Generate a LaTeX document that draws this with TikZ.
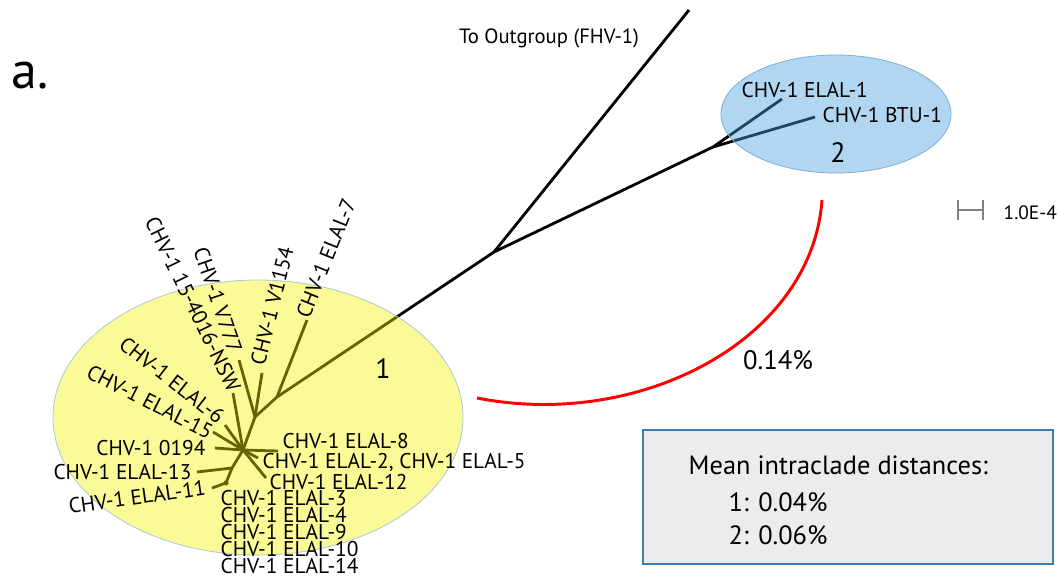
\documentclass[tikz,border=0pt]{standalone}
\usepackage{fontspec}
\setmainfont{PT Sans}
\definecolor{cladeyellow}{RGB}{244,244,0}
\definecolor{cladeblue}{RGB}{75,160,225}
\definecolor{yellowedge}{RGB}{170,200,215}
\definecolor{blueedge}{RGB}{125,175,212}
\definecolor{boxedge}{RGB}{60,125,175}
\definecolor{boxfill}{RGB}{236,236,236}
\definecolor{bargray}{RGB}{130,130,130}
\begin{document}
\begin{tikzpicture}[x=0.75pt, y=-0.75pt,
        branch/.style={line width=2.1pt},
        tip/.style={font=\fontsize{16}{18}\selectfont, inner sep=1pt},
        cladenum/.style={font=\fontsize{21}{24}\selectfont, inner sep=0pt}]
        \useasboundingbox (0,0) rectangle (1060,578);

        \coordinate (root) at (494,252);
        \coordinate (out) at (689,10);
        \coordinate (J) at (713,147);
        \coordinate (telal1) at (782,99);
        \coordinate (tbtu1) at (815,117);
        \coordinate (A) at (277,397);
        \coordinate (B) at (255,417);
        \coordinate (C) at (243,450);
        \coordinate (D) at (232,468);
        \coordinate (E) at (226,483);
        \coordinate (t7) at (307,320);
        \coordinate (t1154) at (262,373);
        \coordinate (t777) at (239,360);
        \coordinate (t4016) at (233,393);
        \coordinate (t6) at (225,425);
        \coordinate (t15) at (213,432);
        \coordinate (t0194) at (215,448);
        \coordinate (t8) at (278,451);
        \coordinate (t25) at (258,458);
        \coordinate (t12) at (266,478);
        \coordinate (t13) at (197,472);
        \coordinate (t11) at (212,488);

        \draw[branch] (root) -- (out);
        \draw[branch] (root) -- (J) -- (telal1);
        \draw[branch] (J) -- (tbtu1);
        \draw[branch] (root) -- (A) -- (B) -- (C) -- (D) -- (E);
        \foreach \a/\b in {A/t7, B/t1154, B/t777, C/t4016, C/t6, C/t15, C/t0194, C/t8, C/t25, C/t12, D/t13, E/t11}
            \draw[branch] (\a) -- (\b);
        \fill (E) circle [radius=1.9pt];

        \path[fill=cladeyellow, fill opacity=0.41, draw=yellowedge, line width=0.6pt] (258,417.5) ellipse [x radius=205, y radius=137.5];
        \path[fill=cladeblue, fill opacity=0.43, draw=blueedge, line width=0.6pt] (836,114) ellipse [x radius=115, y radius=59];

        \node[tip, rotate=68] (l7) at (326,258) {CHV-1 ELAL-7};
        \node[tip, rotate=76] (l1154) at (272,306) {CHV-1 V1154};
        \node[tip, rotate=-71] (l777) at (218,300) {CHV-1 V777};
        \node[tip, rotate=-64] (l4016) at (193,304) {CHV-1 15-4016-NSW};
        \node[tip, rotate=-38] (l6) at (172,380) {CHV-1 ELAL-6};
        \node[tip, rotate=-27] (l15) at (150,402) {CHV-1 ELAL-15};
        \node[tip, anchor=east] (l0194) at (207,448) {CHV-1 0194};
        \node[tip, anchor=east] (l13) at (193,472) {CHV-1 ELAL-13};
        \node[tip, rotate=8] (l11) at (137,497) {CHV-1 ELAL-11};
        \node[tip, anchor=west] (l8) at (281,441) {CHV-1 ELAL-8};
        \node[tip, anchor=west] (l25) at (261,462) {CHV-1 ELAL-2, CHV-1 ELAL-5};
        \node[tip, anchor=west] (l12) at (268,482) {CHV-1 ELAL-12};
        \foreach \n [count=\i] in {3,4,9,10,14}
            \node[tip, anchor=west] (le\n) at (219,481+17*\i) {CHV-1 ELAL-\n};

        \node[tip, anchor=west] (lelal1) at (740,90) {CHV-1 ELAL-1};
        \node[tip, anchor=west] (lbtu1) at (821,115) {CHV-1 BTU-1};

        \node[cladenum] (n1) at (383,369) {1};
        \node[cladenum] (n2) at (838,153) {2};

        \node[font=\fontsize{15.5}{18}\selectfont] (outlab) at (549,38) {To Outgroup (FHV-1)};
        \node[font=\fontsize{39}{44}\selectfont, anchor=base west, inner sep=0pt] (panel) at (11,88) {a.};

        \coordinate (arcstart) at (822,200);
        \coordinate (arcend) at (477,398);
        \draw[red, line width=2.2pt] (arcstart) .. controls (812,340) and (640,430) .. (arcend);
        \node[font=\fontsize{20}{22}\selectfont] (dist) at (778,360) {0.14\%};

        \coordinate (barl) at (958,210);
        \coordinate (barr) at (983,210);
        \draw[bargray, line width=2pt] (barl) -- (barr);
        \draw[bargray, line width=2pt] ([yshift=7.5pt]barl) -- ([yshift=-7.5pt]barl);
        \draw[bargray, line width=2pt] ([yshift=7.5pt]barr) -- ([yshift=-7.5pt]barr);
        \node[font=\fontsize{14.5}{16}\selectfont, anchor=west] (barlab) at (999,213) {1.0E-4};

        \draw[boxedge, fill=boxfill, line width=1.5pt] (643,430) rectangle (1053,564);
        \node[font=\fontsize{19.8}{22}\selectfont, anchor=west] (meantitle) at (684,465) {Mean intraclade distances:};
        \node[font=\fontsize{19.8}{22}\selectfont, anchor=west] (mean1) at (724,502) {1: 0.04\%};
        \node[font=\fontsize{19.8}{22}\selectfont, anchor=west] (mean2) at (724,535) {2: 0.06\%};
\end{tikzpicture}
\end{document}
